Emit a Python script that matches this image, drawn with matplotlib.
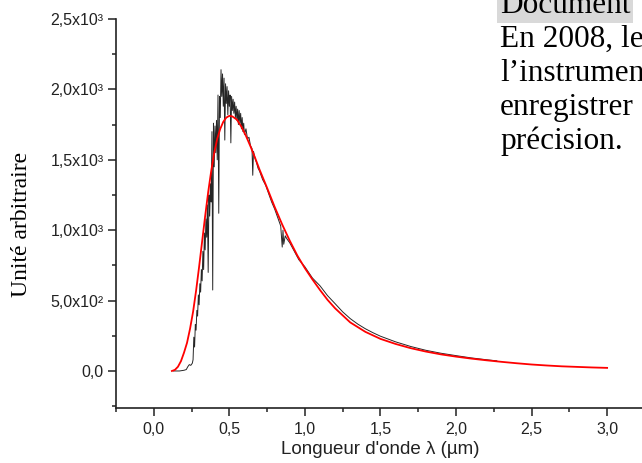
import matplotlib
matplotlib.use("Agg")
import matplotlib.pyplot as plt
from matplotlib.ticker import MultipleLocator, FixedLocator

# ---- data ----
red_lambda = [0.12, 0.14, 0.16, 0.18, 0.20, 0.22, 0.24, 0.26, 0.28, 0.30, 0.32, 0.34, 0.36,
              0.38, 0.40, 0.42, 0.44, 0.46, 0.48, 0.50, 0.52, 0.55, 0.58, 0.61, 0.64, 0.67,
              0.70, 0.75, 0.80, 0.85, 0.90, 0.95, 1.00, 1.05, 1.10, 1.15, 1.20, 1.30, 1.40,
              1.50, 1.60, 1.70, 1.80, 1.90, 2.00, 2.10, 2.20, 2.30, 2.40, 2.50, 2.60, 2.70,
              2.80, 2.90, 3.00]
red_value = [0, 8, 30, 70, 130, 200, 300, 420, 570, 740, 920, 1100, 1270,
             1420, 1550, 1650, 1720, 1770, 1800, 1812, 1808, 1785, 1735, 1670, 1595, 1515,
             1430, 1300, 1165, 1040, 925, 820, 730, 650, 575, 505, 445, 345, 278,
             228, 192, 162, 138, 118, 102, 88, 76, 65, 55, 46, 39, 33,
             29, 25, 22]

black_lambda = [0.13, 0.17, 0.20, 0.215, 0.225, 0.235, 0.245, 0.255, 0.26, 0.265, 0.27, 0.275,
                0.28, 0.285, 0.29, 0.295, 0.30, 0.305, 0.31, 0.315, 0.32, 0.325, 0.33, 0.335,
                0.34, 0.345, 0.35, 0.355, 0.36, 0.365, 0.37, 0.375, 0.38, 0.385, 0.39, 0.395,
                0.40, 0.405, 0.41, 0.415, 0.42, 0.425, 0.43, 0.435, 0.44, 0.445, 0.45, 0.455,
                0.46, 0.465, 0.47, 0.475, 0.48, 0.485, 0.49, 0.495, 0.50, 0.505, 0.51, 0.515,
                0.52, 0.525, 0.53, 0.535, 0.54, 0.545, 0.55, 0.555, 0.56, 0.565, 0.57, 0.575,
                0.58, 0.585, 0.59, 0.595, 0.60, 0.61, 0.62, 0.63, 0.64, 0.65, 0.655, 0.66,
                0.67, 0.68, 0.69, 0.70, 0.72, 0.74, 0.76, 0.78, 0.80, 0.82, 0.84, 0.85,
                0.855, 0.86, 0.87, 0.88, 0.90, 0.93, 0.96, 1.00, 1.05, 1.10, 1.15, 1.20,
                1.25, 1.30, 1.35, 1.40, 1.45, 1.50, 1.60, 1.70, 1.80, 1.90, 2.00, 2.10,
                2.20, 2.27]
black_value = [0, 0, 5, 10, 30, 45, 40, 55, 80, 240, 170, 330,
               290, 430, 390, 540, 470, 620, 560, 720, 640, 850, 720, 980,
               860, 1080, 950, 1180, 700, 1250, 1100, 1330, 1200, 1700, 575, 1760,
               1450, 1740, 1550, 1780, 1500, 1960, 1120, 1950, 1800, 2140, 1950, 2110,
               1880, 2080, 1640, 2040, 1900, 2020, 1820, 1990, 1880, 1960, 1620, 1950,
               1850, 1930, 1830, 1910, 1800, 1880, 1780, 1860, 1750, 1850, 1760, 1830,
               1720, 1800, 1700, 1760, 1680, 1720, 1650, 1660, 1600, 1580, 1390, 1560,
               1510, 1480, 1440, 1420, 1360, 1320, 1260, 1200, 1150, 1090, 1030, 880,
               1000, 900, 960, 940, 910, 850, 790, 740, 660, 605, 535, 478,
               420, 372, 333, 300, 272, 247, 207, 174, 147, 126, 109, 93,
               80, 72]

x_ticks = [0.0, 0.5, 1.0, 1.5, 2.0, 2.5, 3.0]
x_tick_labels = ["0,0", "0,5", "1,0", "1,5", "2,0", "2,5", "3,0"]
y_ticks = [0, 500, 1000, 1500, 2000, 2500]
y_tick_labels = ["0,0", "5,0x10²", "1,0x10³", "1,5x10³", "2,0x10³", "2,5x10³"]

x_label = "Longueur d'onde λ (µm)"
y_label = "Unité arbitraire"
doc_title = "Document"
doc_lines = ["En 2008, le", "l’instrumen", "enregistrer", "précision."]

# ---- figure ----
W, H = 642, 463
fig = plt.figure(figsize=(W / 100, H / 100), dpi=100)
fig.patch.set_facecolor("white")

ax_left, ax_right, ax_top, ax_bottom = 116, 660, 19, 408
ax = fig.add_axes([ax_left / W, 1 - ax_bottom / H,
                   (ax_right - ax_left) / W, (ax_bottom - ax_top) / H])
ax.set_xlim(-0.25, 3.35)
ax.set_ylim(-263, 2500)

ax.plot(black_lambda, black_value, color="black", lw=0.7, alpha=0.85)
ax.plot(red_lambda, red_value, color="#ff0000", lw=1.3)

for s in ["top", "right"]:
    ax.spines[s].set_visible(False)
for s in ["left", "bottom"]:
    ax.spines[s].set_linewidth(1.2)
    ax.spines[s].set_color("#222222")

ax.xaxis.set_major_locator(FixedLocator(x_ticks))
ax.set_xticklabels(x_tick_labels)
ax.xaxis.set_minor_locator(MultipleLocator(0.25))
ax.yaxis.set_major_locator(FixedLocator(y_ticks))
ax.set_yticklabels(y_tick_labels)
ax.yaxis.set_minor_locator(MultipleLocator(250))

tick_font = "Liberation Sans"
ax.tick_params(axis="both", which="major", direction="out", length=6, width=1.1,
               color="#222222", labelsize=11.5, labelcolor="#222222", pad=3)
ax.tick_params(axis="both", which="minor", direction="out", length=3, width=1.1,
               color="#222222")
ax.tick_params(axis="x", which="major", pad=4)
for lab in ax.get_xticklabels() + ax.get_yticklabels():
    lab.set_fontfamily(tick_font)

fig.text(380 / W, 1 - 450 / H, x_label, ha="center", va="center",
         fontsize=13.5, family=tick_font, color="#222222")
fig.text(22 / W, 1 - 224 / H, y_label, ha="center", va="center", rotation=90,
         fontsize=17, family="Liberation Serif", color="black")

# overlapping document text (top right)
fig.text(500 / W, 1 - 13 / H, doc_title, ha="left", va="baseline",
         fontsize=22.5, family="Liberation Serif", color="black",
         bbox=dict(facecolor="#d9d9d9", edgecolor="none", pad=2))
for i, line in enumerate(doc_lines):
    fig.text(500 / W, 1 - (47 + 34 * i) / H, line, ha="left", va="baseline",
             fontsize=22.5, family="Liberation Serif", color="black")

fig.savefig("out.png", dpi=100)
